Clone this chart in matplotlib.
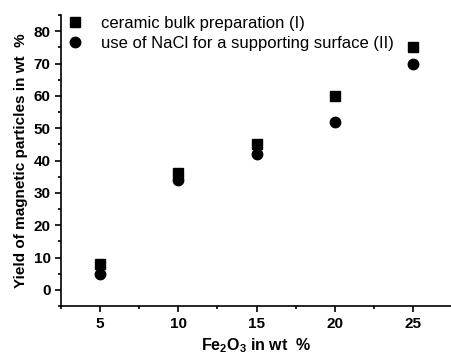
import numpy as np
import matplotlib
matplotlib.use("Agg")
import matplotlib.pyplot as plt
from matplotlib.ticker import MultipleLocator

# Fe2O3 content (wt %)
fe2o3 = [5, 10, 15, 20, 25]
# yield of magnetic particles (wt %)
yield_bulk = [8, 36, 45, 60, 75]
yield_nacl = [5, 34, 42, 52, 70]
labels = ["ceramic bulk preparation (I)",
          "use of NaCl for a supporting surface (II)"]

plt.rcParams["font.family"] = ["Liberation Sans", "DejaVu Sans"]
plt.rcParams["mathtext.fontset"] = "custom"
plt.rcParams["mathtext.rm"] = "Liberation Sans:bold"
plt.rcParams["mathtext.it"] = "Liberation Sans:bold"
plt.rcParams["mathtext.bf"] = "Liberation Sans:bold"

fig = plt.figure(figsize=(4.52, 3.58), dpi=100)
ax = fig.add_axes([0.135, 0.145, 0.865, 0.813])

ax.plot(fe2o3, yield_bulk, "s", color="black", markersize=7, label=labels[0])
ax.plot(fe2o3, yield_nacl, "o", color="black", markersize=7.5, label=labels[1])

ax.set_xlim(2.5, 27.5)
ax.set_ylim(-5, 85)
ax.xaxis.set_major_locator(MultipleLocator(5))
ax.xaxis.set_minor_locator(MultipleLocator(2.5))
ax.yaxis.set_major_locator(MultipleLocator(10))
ax.yaxis.set_minor_locator(MultipleLocator(5))
ax.set_yticks([0, 10, 20, 30, 40, 50, 60, 70, 80])

for side in ("top", "right"):
    ax.spines[side].set_visible(False)
for side in ("left", "bottom"):
    ax.spines[side].set_linewidth(1.2)

ax.tick_params(which="both", direction="out", width=1.2)
ax.tick_params(which="major", length=4, labelsize=11)
ax.tick_params(which="minor", length=2.5)
for lbl in ax.get_xticklabels() + ax.get_yticklabels():
    lbl.set_fontweight("bold")

ax.set_xlabel(r"Fe$_2$O$_3$ in wt  %", fontsize=11.5, fontweight="bold")
ax.set_ylabel("Yield of magnetic particles in wt  %", fontsize=11, fontweight="bold")

ax.legend(loc="upper left", frameon=False, fontsize=12, handlelength=1.7,
          handletextpad=0.75, borderaxespad=0.0, labelspacing=0.3,
          bbox_to_anchor=(-0.018, 1.02))

fig.savefig("out.png", dpi=100)
